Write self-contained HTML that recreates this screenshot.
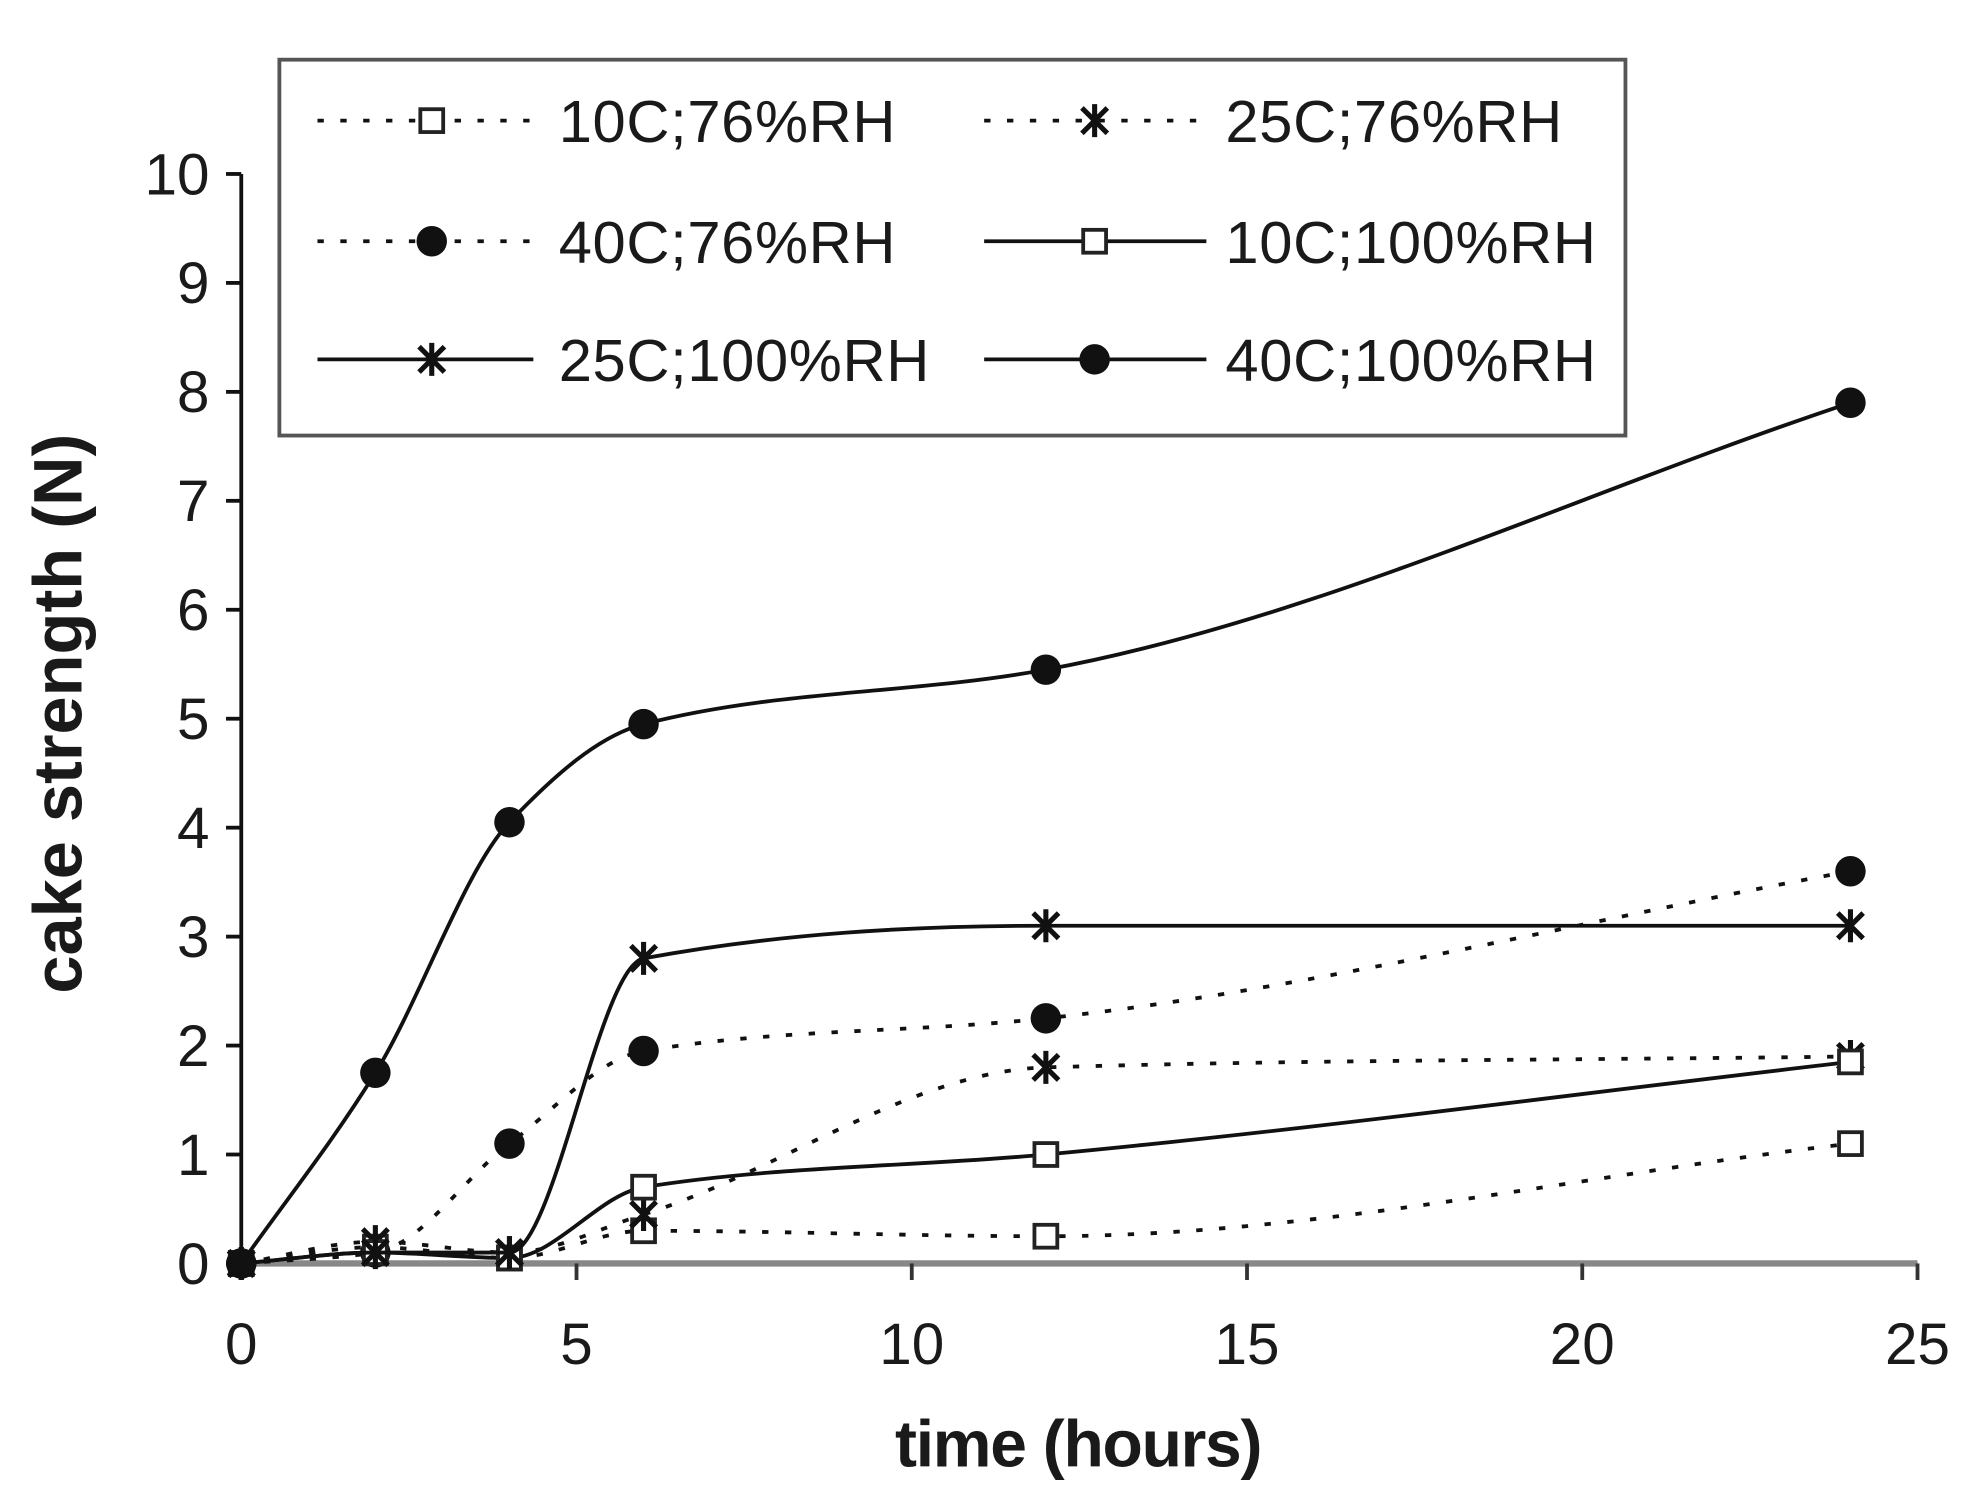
<!DOCTYPE html>
<html><head><meta charset="utf-8"><style>
html,body{margin:0;padding:0;background:#fff;}
svg{display:block;}
text{font-family:"Liberation Sans",sans-serif;fill:#1a1a1a;}
</style></head><body>
<svg id="s" width="1981" height="1506" viewBox="0 0 1560 1186" preserveAspectRatio="none">
<rect width="1560" height="1186" fill="#fff"/>
<g id="axes"></g>
<g id="series"></g>
<rect x="220" y="47" width="1060" height="296" fill="#fff" stroke="#555" stroke-width="3"/>
<g id="legend"></g>
<text x="849" y="1155" font-size="52" font-weight="bold" text-anchor="middle" letter-spacing="-1">time (hours)</text>
<text transform="translate(64,562) rotate(-90)" font-size="54" font-weight="bold" text-anchor="middle">cake strength (N)</text>
</svg>
<script>
var NS="http://www.w3.org/2000/svg";
function el(p,n,a,t){var e=document.createElementNS(NS,n);for(var k in a)e.setAttribute(k,a[k]);if(t!=null)e.textContent=t;p.appendChild(e);return e;}
var X0=190,XS=52.8,Y0=995,YS=85.8;
function px(t){return X0+t*XS;} function py(v){return Y0-v*YS;}
var ax=document.getElementById('axes');
el(ax,'line',{x1:190,y1:137,x2:190,y2:995,stroke:'#111','stroke-width':3});
for(var i=0;i<=10;i++){var y=py(i);el(ax,'line',{x1:178,y1:y,x2:190,y2:y,stroke:'#111','stroke-width':3});
el(ax,'text',{x:165,y:y+16,'font-size':46,'text-anchor':'end'},String(i));}
el(ax,'line',{x1:190,y1:995,x2:px(25),y2:995,stroke:'#888','stroke-width':5});
for(var i=0;i<=25;i+=5){var x=px(i);el(ax,'line',{x1:x,y1:995,x2:x,y2:1008,stroke:'#333','stroke-width':3});
el(ax,'text',{x:x,y:1074,'font-size':46,'text-anchor':'middle'},String(i));}
var T=[0,2,4,6,12,24];
var S=[
{d:[0,0.15,0.05,0.3,0.25,1.1],dash:true,m:'sq'},
{d:[0,0.2,0.1,0.45,1.8,1.9],dash:true,m:'ast'},
{d:[0,0.1,1.1,1.95,2.25,3.6],dash:true,m:'dot'},
{d:[0,0.1,0.05,0.7,1.0,1.85],dash:false,m:'sq'},
{d:[0,0.1,0.1,2.8,3.1,3.1],dash:false,m:'ast'},
{d:[0,1.75,4.05,4.95,5.45,7.9],dash:false,m:'dot'}];
function spline(P){var n=P.length,dl=[],m=[];
for(var i=0;i<n-1;i++)dl.push((P[i+1][1]-P[i][1])/(P[i+1][0]-P[i][0]));
m[0]=dl[0];m[n-1]=dl[n-2];
for(var i=1;i<n-1;i++){if(dl[i-1]*dl[i]<=0)m[i]=0;else{var w1=2*(P[i+1][0]-P[i][0])+(P[i][0]-P[i-1][0]),w2=(P[i+1][0]-P[i][0])+2*(P[i][0]-P[i-1][0]);m[i]=(w1+w2)/(w1/dl[i-1]+w2/dl[i]);}}
var d='M'+P[0][0]+','+P[0][1];
for(var i=0;i<n-1;i++){var h=(P[i+1][0]-P[i][0])/3;
d+=' C'+(P[i][0]+h)+','+(P[i][1]+m[i]*h)+' '+(P[i+1][0]-h)+','+(P[i+1][1]-m[i+1]*h)+' '+P[i+1][0]+','+P[i+1][1];}
return d;}
function marker(g,m,x,y){
if(m=='sq')el(g,'rect',{x:x-9,y:y-9,width:18,height:18,fill:'#fff',stroke:'#222','stroke-width':3});
else if(m=='dot')el(g,'circle',{cx:x,cy:y,r:12,fill:'#111'});
else{var r=10;el(g,'path',{d:'M'+(x-r)+','+(y-r)+'L'+(x+r)+','+(y+r)+'M'+(x-r)+','+(y+r)+'L'+(x+r)+','+(y-r)+'M'+x+','+(y-r-3)+'L'+x+','+(y+r+3),stroke:'#111','stroke-width':4,fill:'none'});}}
var sg=document.getElementById('series');
S.forEach(function(s){var P=T.map(function(t,i){return [px(t),py(s.d[i])];});
el(sg,'path',{d:spline(P),fill:'none',stroke:'#111','stroke-width':3,'stroke-dasharray':s.dash?'5 13':'none'});
P.forEach(function(p){marker(sg,s.m,p[0],p[1]);});});
var lg=document.getElementById('legend');
var L=[['10C;76%RH',0],['25C;76%RH',1],['40C;76%RH',2],['10C;100%RH',3],['25C;100%RH',4],['40C;100%RH',5]];
L.forEach(function(l,i){var col=i%2,row=Math.floor(i/2);var y=[95,190,283][row];
var x1=col?775:250,x2=col?950:420,mx=col?862:340,tx=col?965:440;var s=S[l[1]];
el(lg,'line',{x1:x1,y1:y,x2:x2,y2:y,stroke:'#111','stroke-width':3,'stroke-dasharray':s.dash?'5 13':'none'});
marker(lg,s.m,mx,y);
el(lg,'text',{x:tx,y:y+17,'font-size':47,'letter-spacing':0.5},l[0]);});
</script>
</body></html>
